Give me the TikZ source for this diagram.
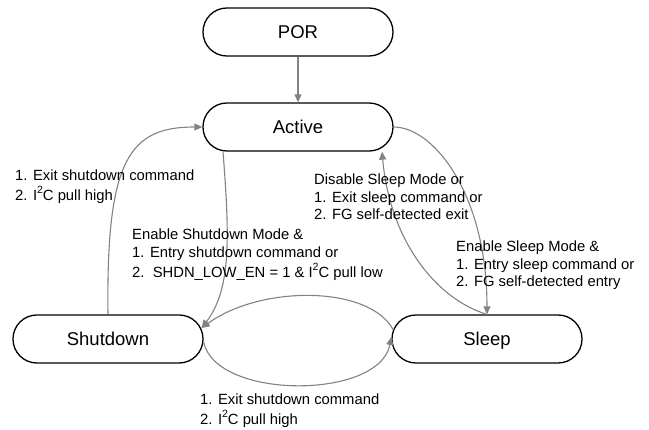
\documentclass[tikz,border=0pt]{standalone}
\usepackage{fontspec}
\setmainfont{Liberation Sans}
\usetikzlibrary{arrows.meta}
\definecolor{linegray}{RGB}{130,130,130}
\newcommand\supTwo{\raisebox{7pt}{\fontsize{10.5}{10}\selectfont 2}}
\begin{document}
\begin{tikzpicture}[x=1pt,y=-1pt,
  state/.style={draw=black, line width=1.3pt, rounded corners=23.9pt,
    minimum width=190pt, minimum height=48pt, inner sep=0pt,
    font=\fontsize{18.5}{20}\selectfont, text height=13.3pt, text depth=0pt},
  conn/.style={draw=linegray, line width=1.1pt, -{Triangle[length=8pt,width=7pt]}},
  lbl/.style={inner sep=0pt, anchor=base west, font=\fontsize{14.8}{17.5}\selectfont}
]
\useasboundingbox (0,0) rectangle (649,430);

% states
\node[state] (por) at (298,32)  {POR};
\node[state] (act) at (298,127) {Active};
\node[state] (sd)  at (108,339) {Shutdown};
\node[state] (sl)  at (487,339) {Sleep};

% connector end points
\coordinate (actA) at ([xshift=-75pt]act.south);
\coordinate (actB) at ([xshift=84pt]act.south);
\coordinate (sdIn) at ([shift={(-2pt,11pt)}]sd.east);
\coordinate (sdOut) at ([shift={(0pt,-3pt)}]sd.east);
\coordinate (slOut) at ([shift={(2pt,9pt)}]sl.west);
\coordinate (slIn) at ([yshift=2pt]sl.west);

% connectors
\draw[conn] (por.south) -- (act.north);
\draw[conn] (sd.north) .. controls +(-2,-155) and +(-73,0) .. (act.west);
\draw[conn] (actA) .. controls +(7,89) and +(29,-38) .. (sdIn);
\draw[conn] (act.east) .. controls +(40,0) and +(0,-120) .. (sl.north);
\draw[conn] (sl.north) .. controls +(-50,-15) and +(8,90) .. (actB);
\draw[conn] (slOut) .. controls +(-24,-45) and +(59,-43) .. (sdIn);
\draw[conn] (sdOut) .. controls +(12,58) and +(-12,63) .. (slIn);

% labels
\node[lbl] (lA) at (15,181) {\begin{tabular}[t]{@{}l@{}}1. Exit shutdown command\\ 2. I\supTwo C pull high\end{tabular}};
\node[lbl] (lB) at (314,185) {\begin{tabular}[t]{@{}l@{}}Disable Sleep Mode or\\ 1. Exit sleep command or\\ 2. FG self-detected exit\end{tabular}};
\node[lbl] (lC) at (132,240) {\begin{tabular}[t]{@{}l@{}}Enable Shutdown Mode \&\\ 1. Entry shutdown command or\\ 2.\ \ SHDN\_LOW\_EN = 1 \& I\supTwo C pull low\end{tabular}};
\node[lbl] (lD) at (456,252) {\begin{tabular}[t]{@{}l@{}}Enable Sleep Mode \&\\ 1. Entry sleep command or\\ 2. FG self-detected entry\end{tabular}};
\node[lbl] (lE) at (200,405) {\begin{tabular}[t]{@{}l@{}}1. Exit shutdown command\\ 2. I\supTwo C pull high\end{tabular}};
\end{tikzpicture}
\end{document}
